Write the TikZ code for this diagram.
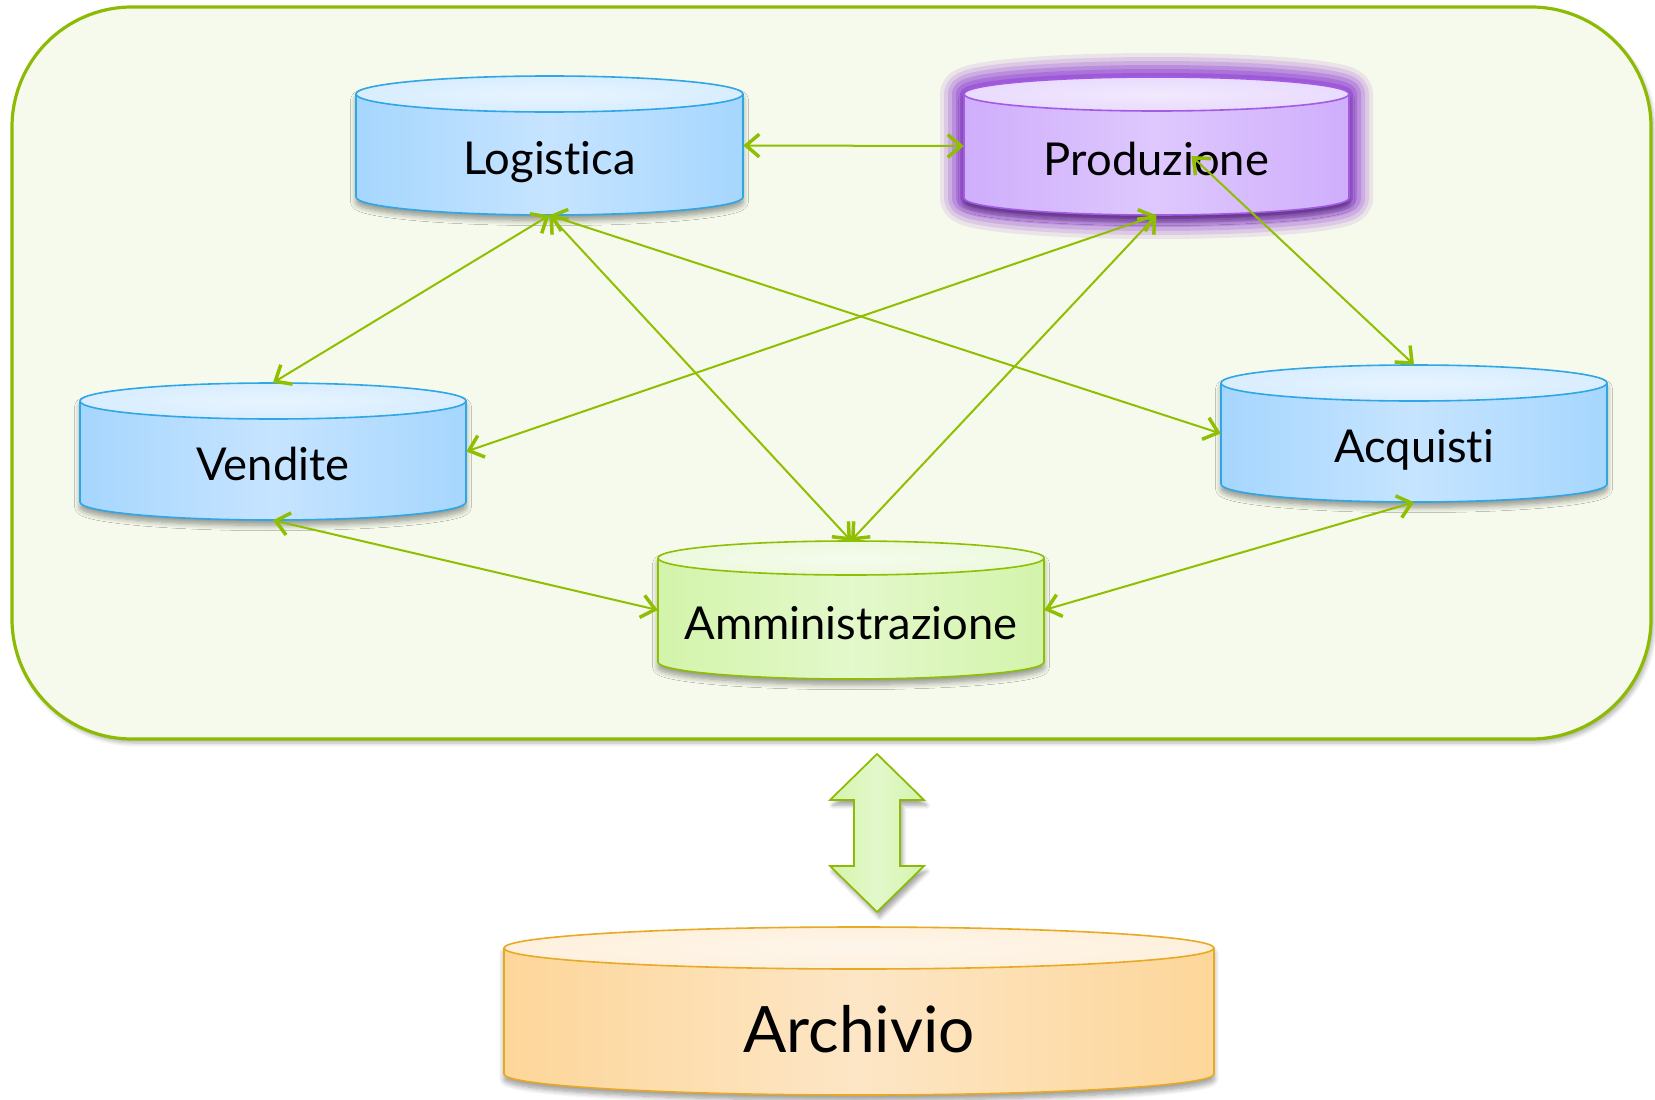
\documentclass[tikz,border=0pt]{standalone}
\usepackage{fontspec}
\setmainfont[Ligatures={NoCommon}]{Lato}
\usetikzlibrary{arrows.meta,calc,shadows.blur}

\definecolor{bgfill}{HTML}{F6FAEC}
\definecolor{bgline}{HTML}{8DBB05}
\definecolor{lineg}{HTML}{8FBF00}
% blue
\definecolor{blueB}{HTML}{2FA6E6}
\definecolor{blueS}{HTML}{A6D6FE}
\definecolor{blueM}{HTML}{C6E4FF}
\definecolor{blueT}{HTML}{D8EDFF}
% purple
\definecolor{purpB}{HTML}{A35BE3}
\definecolor{purpS}{HTML}{CFAEFC}
\definecolor{purpM}{HTML}{DEC8FD}
\definecolor{purpT}{HTML}{E9DBFE}
\definecolor{glow}{HTML}{9448D4}
% green
\definecolor{grnB}{HTML}{8DC000}
\definecolor{grnS}{HTML}{D3F4AB}
\definecolor{grnM}{HTML}{E3F8CB}
\definecolor{grnT}{HTML}{EDF9DF}
% orange
\definecolor{orgB}{HTML}{E8A923}
\definecolor{orgS}{HTML}{FDD699}
\definecolor{orgM}{HTML}{FDE6C6}
\definecolor{orgT}{HTML}{FEF0DD}

\tikzset{
  smalltxt/.style={font=\fontsize{34}{40}\selectfont, text height=44pt, text depth=0pt},
  bigtxt/.style={font=\fontsize{48}{56}\selectfont, text height=61.5pt, text depth=0pt},
  link/.style={draw=lineg, line width=1.5pt,
    {Straight Barb[length=10pt,width=17pt,line width=2.6pt]}-{Straight Barb[length=10pt,width=17pt,line width=2.6pt]}},
  cylshadow/.style={blur shadow={shadow xshift=0pt, shadow yshift=-4pt, shadow opacity=40, shadow blur steps=8, shadow blur radius=4pt}},
}

% #1 name, #2 cx, #3 ytop, #4 ybot, #5 half width, #6 ry, #7 colour prefix, #8 text style, #9 text
\newcommand\dbcyl[9]{%
  \fill[cylshadow, left color=#7S, right color=#7S, middle color=#7M]
    (#2-#5,-#3) -- (#2-#5,-#4)
    arc[start angle=180,end angle=360,x radius=#5,y radius=#6]
    -- (#2+#5,-#3)
    arc[start angle=0,end angle=180,x radius=#5,y radius=#6] -- cycle;
  \fill[inner color=#7T!60!white, outer color=#7T] (#2,-#3) ellipse [x radius=#5, y radius=#6];
  \draw[draw=#7B, line width=1.2pt, line join=round]
    (#2-#5,-#3) -- (#2-#5,-#4)
    arc[start angle=180,end angle=360,x radius=#5,y radius=#6]
    -- (#2+#5,-#3);
  \draw[draw=#7B, line width=1.2pt] (#2,-#3) ellipse [x radius=#5, y radius=#6];
  \node[#8, inner sep=0pt, minimum width={2*#5*0.75pt}, minimum height={(#4-#3+2*#6)*0.75pt}]
    (#1) at (#2,{-(#3+#4)/2}) {#9};
}

\begin{document}
\begin{tikzpicture}[x=0.75pt,y=0.75pt]
\useasboundingbox (0,0) rectangle (1655,-1099);

% container
\draw[fill=bgfill, draw=bgline, line width=2.4pt, rounded corners=90pt,
      blur shadow={shadow xshift=2pt, shadow yshift=-3pt, shadow opacity=30, shadow blur steps=6, shadow blur radius=3pt}]
  (12,-7) rectangle (1651,-739);

% glow around Produzione
\foreach \w/\o in {48/0.12,40/0.16,32/0.22,24/0.3,16/0.4,8/0.55} {
  \draw[glow, line width=\w*0.75pt, opacity=\o, line join=round]
    (964,-94) -- (964,-198) arc[start angle=180,end angle=360,x radius=192.5,y radius=17]
    -- (1349,-94) arc[start angle=0,end angle=180,x radius=192.5,y radius=17] -- cycle;
}

\dbcyl{log}{549.5}{94}{197}{193.5}{18}{blue}{smalltxt}{Logistica}
\dbcyl{prod}{1156.5}{94}{198}{192.5}{17}{purp}{smalltxt}{Produzione}
\dbcyl{vend}{273}{401}{502}{193}{18}{blue}{smalltxt}{Vendite}
\dbcyl{acq}{1414}{383}{484}{193}{18}{blue}{smalltxt}{Acquisti}
\dbcyl{amm}{851}{558}{662}{193}{17}{grn}{smalltxt}{Amministrazione}
\dbcyl{arch}{859}{948}{1074}{355}{21}{org}{bigtxt}{Archivio}

% connectors
\draw[link] (log.east) -- (prod.west);
\draw[link] (log.south) -- (vend.north);
\draw[link] (log.south) -- (amm.north);
\draw[link] (log.south) -- (acq.west);
\draw[link] (prod.south) -- (vend.east);
\draw[link] (prod.south) -- (amm.north);
\draw[link] ($(prod.center)+(35,-10)$) -- (acq.north);
\draw[link] (vend.south) -- (amm.west);
\draw[link] (acq.south) -- (amm.east);

% big double arrow
\draw[draw=bgline, line width=1.3pt, line join=miter, left color=grnS, right color=grnS, middle color=grnM,
      blur shadow={shadow xshift=2pt, shadow yshift=-4pt, shadow opacity=35, shadow blur steps=6, shadow blur radius=3pt}]
  (877,-754) -- (924,-800) -- (900,-800) -- (900,-866) -- (924,-866) -- (877,-912)
  -- (830,-866) -- (854,-866) -- (854,-800) -- (830,-800) -- cycle;
\end{tikzpicture}
\end{document}
